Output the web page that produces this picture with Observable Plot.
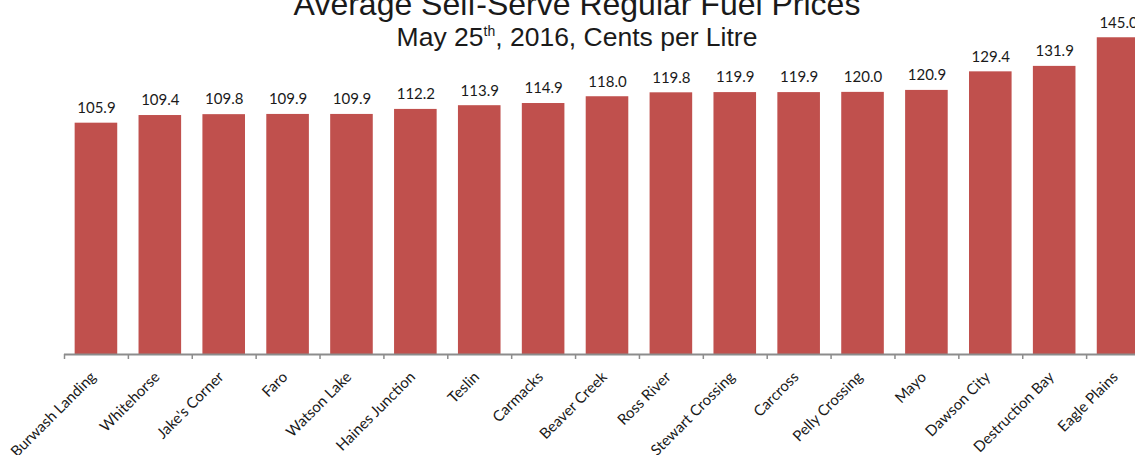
<!DOCTYPE html>
<html><head><meta charset="utf-8">
<script src="https://cdn.jsdelivr.net/npm/d3@7"></script>
<script src="https://cdn.jsdelivr.net/npm/@observablehq/plot@0.6"></script>
<style>
body{margin:0;overflow:hidden;background:#fff;}
#wrap{position:relative;width:1135px;height:455px;overflow:hidden;}
#chart svg{max-width:none !important;}
.title{position:absolute;left:0;width:1154px;text-align:center;font-family:"Liberation Sans",Arial,sans-serif;color:#1a1a1a;white-space:nowrap;line-height:1;}
.title sup{font-size:14px;line-height:0;vertical-align:0;position:relative;top:-0.75em;}
</style></head><body>
<div id="wrap"><div id="chart"></div>
<div class="title" style="top:-12px;font-size:32px">Average Self-Serve Regular Fuel Prices</div>
<div class="title" style="top:24px;font-size:26.5px">May 25<sup>th</sup>, 2016, Cents per Litre</div>
</div>
<script>
const cities = ["Burwash Landing","Whitehorse","Jake's Corner","Faro","Watson Lake","Haines Junction","Teslin","Carmacks","Beaver Creek","Ross River","Stewart Crossing","Carcross","Pelly Crossing","Mayo","Dawson City","Destruction Bay","Eagle Plains"];
const prices = [105.9,109.4,109.8,109.9,109.9,112.2,113.9,114.9,118.0,119.8,119.9,119.9,120.0,120.9,129.4,131.9,145.0];
const data = cities.map((c,i)=>({city:c, price:prices[i]}));
const W = 1150, ML = 64;
const step = (W - ML) / cities.length;
const chart = Plot.plot({
  width: W, height: 455,
  marginLeft: ML, marginRight: 0, marginTop: 4.5, marginBottom: 101,
  style: {fontFamily: "Lato, sans-serif", fontSize: "15px", color: "#1a1a1a", background: "transparent"},
  x: {domain: cities, paddingInner: 1/3, paddingOuter: 1/6, round: false, label: null},
  y: {domain: [0, 160], axis: null},
  marks: [
    Plot.barY(data, {x: "city", y: "price", fill: "#C0504D"}),
    Plot.text(data, {x: "city", y: "price", text: d => d.price.toFixed(1), dy: -15, fontSize: 15, fill: "#1a1a1a"}),
    Plot.ruleY([0], {stroke: "#8c8c8c", strokeWidth: 2}),
    Plot.axisX({tickSize: 5, tickFormat: () => "", dx: -step/2, stroke: "#8c8c8c", strokeWidth: 1.5, label: null}),
    Plot.axisX({tickSize: 0, tickRotate: -45, tickPadding: 20, fontSize: 15, label: null, dx: -3})
  ]
});
document.getElementById("chart").appendChild(chart);
</script>
</body></html>
